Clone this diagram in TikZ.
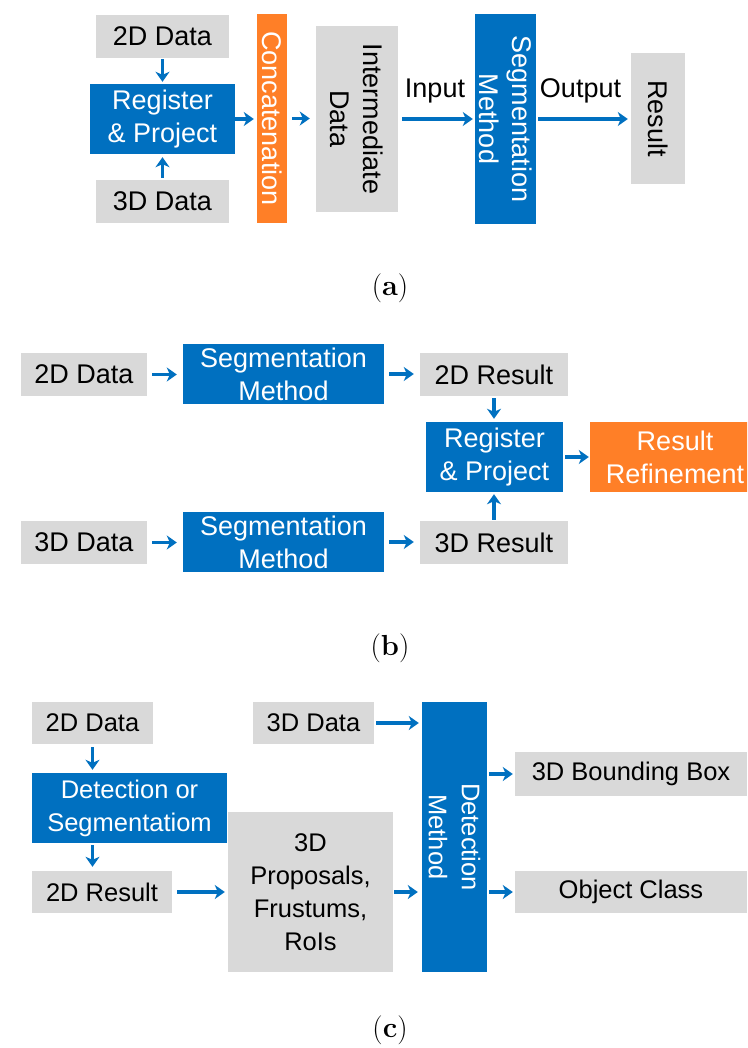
\documentclass[tikz,border=0pt]{standalone}
\usepackage{fontspec}
\setsansfont{Liberation Sans}
\usetikzlibrary{arrows.meta}

\definecolor{boxgray}{RGB}{217,217,217}
\definecolor{boxblue}{RGB}{0,112,192}
\definecolor{boxorange}{RGB}{255,127,39}

\tikzset{
  base/.style={inner sep=0pt, align=center, anchor=center,
    font=\sffamily\fontsize{27}{33}\selectfont},
  graybox/.style={base, fill=boxgray, text=black},
  bluebox/.style={base, fill=boxblue, text=white},
  orangebox/.style={base, fill=boxorange, text=white},
  sz/.style 2 args={minimum width=#1, minimum height=#2},
  lbl/.style={inner sep=0pt, anchor=base, text=black,
    font=\sffamily\fontsize{27}{33}\selectfont},
  caption/.style={inner sep=0pt, anchor=base,
    font=\rmfamily\fontsize{29}{32}\selectfont},
  flow/.style={draw=boxblue, line width=3.8pt,
    -{Stealth[length=10pt,width=14pt,inset=3pt,fill=boxblue]}},
  smaller/.style={font=\sffamily\fontsize{25.5}{33}\selectfont},
}

\begin{document}
\begin{tikzpicture}[x=1pt,y=1pt]
\useasboundingbox (0,0) rectangle (747,-1048);
\clip (0,0) rectangle (747,-1048);

% ---------- (a) early fusion ----------
\node[graybox, sz={133}{43}] (a2d) at (162.5,-36.5) {2D Data};
\node[bluebox, sz={145}{70}] (areg) at (162.5,-119) {Register\\\& Project};
\node[graybox, sz={133}{43}] (a3d) at (162.5,-201.5) {3D Data};
\node[orangebox, rotate=-90, sz={209}{30}] (acat) at (272,-118.5) {Concatenation};
\node[graybox, rotate=-90, sz={186}{82}] (aint) at (357,-119) {Intermediate\\Data};
\node[bluebox, rotate=-90, sz={210}{61}] (aseg) at (505.5,-119) {Segmentation\\Method};
\node[graybox, rotate=-90, sz={131}{54}] (ares) at (658,-118.5) {Result};
\node[lbl] (ain) at (435,-98) {Input};
\node[lbl] (aout) at (580.5,-98) {Output};

\draw[flow, shorten <=1, shorten >=2] (a2d.south) -- (a2d.south |- areg.north);
\draw[flow, shorten <=2, shorten >=3] (a3d.north) -- (a3d.north |- areg.south);
\draw[flow, shorten >=3] (areg.east) -- (areg.east -| acat.south);
\draw[flow, shorten <=5, shorten >=6] (acat.north) -- (acat.north -| aint.south);
\draw[flow, shorten <=4, shorten >=2] (aint.north) -- (aint.north -| aseg.south);
\draw[flow, shorten <=2, shorten >=3] (aseg.north) -- (aseg.north -| ares.south);

\node[caption] (capa) at (390,-295) {(\textbf{a})};

% ---------- (b) late fusion ----------
\node[graybox, sz={126}{43}] (b2d) at (84,-374.5) {2D Data};
\node[bluebox, sz={201}{60}] (bseg1) at (283.5,-374) {Segmentation\\Method};
\node[graybox, sz={148}{43}] (b2r) at (494,-374.5) {2D Result};
\node[bluebox, sz={137}{70}] (breg) at (494.5,-457) {Register\\\& Project};
\node[orangebox, sz={170}{70}] (bref) at (675,-457) {Result\\Refinement};
\node[graybox, sz={126}{43}] (b3d) at (84,-542.5) {3D Data};
\node[bluebox, sz={201}{60}] (bseg2) at (283.5,-542) {Segmentation\\Method};
\node[graybox, sz={148}{43}] (b3r) at (494,-542.5) {3D Result};

\draw[flow, shorten <=5, shorten >=6] (b2d.east) -- (b2d.east -| bseg1.west);
\draw[flow, shorten <=5, shorten >=6] (bseg1.east) -- (bseg1.east -| b2r.west);
\draw[flow, shorten <=5, shorten >=6] (b3d.east) -- (b3d.east -| bseg2.west);
\draw[flow, shorten <=5, shorten >=6] (bseg2.east) -- (bseg2.east -| b3r.west);
\draw[flow, shorten <=2, shorten >=3] (b2r.south) -- (b2r.south |- breg.north);
\draw[flow, shorten <=1, shorten >=2] (b3r.north) -- (b3r.north |- breg.south);
\draw[flow, shorten <=2, shorten >=1] (breg.east) -- (breg.east -| bref.west);

\node[caption] (capb) at (390,-655) {(\textbf{b})};

% ---------- (c) detection cascade ----------
\node[graybox, smaller, sz={121}{42}] (c2d) at (92.5,-723) {2D Data};
\node[bluebox, smaller, sz={195}{70}] (cdet) at (129.5,-808) {Detection or\\Segmentatiom};
\node[graybox, smaller, sz={140}{42}] (c2r) at (102,-892) {2D Result};
\node[graybox, smaller, sz={165}{160}] (cprop) at (310.5,-892) {3D\\Proposals,\\Frustums,\\RoIs};
\node[graybox, smaller, sz={121}{42}] (c3d) at (313.5,-723) {3D Data};
\node[bluebox, smaller, rotate=-90, sz={270}{65}] (cdm) at (454.5,-837) {Detection\\Method};
\node[graybox, smaller, sz={232}{44}] (cbb) at (631,-774) {3D Bounding Box};
\node[graybox, smaller, sz={232}{42}] (coc) at (631,-892) {Object Class};

\draw[flow, shorten <=3, shorten >=3] (c2d.south) -- (c2d.south |- cdet.north);
\draw[flow, shorten <=2, shorten >=4] (c2d.south |- cdet.south) -- (c2d.south |- c2r.north);
\draw[flow, shorten <=5, shorten >=3] (c2r.east) -- (c2r.east -| cprop.west);
\draw[flow, shorten <=2, shorten >=3] (c3d.east) -- (c3d.east -| cdm.south);
\draw[flow, shorten <=1, shorten >=4] (cprop.east) -- (cprop.east -| cdm.south);
\draw[flow, shorten <=2, shorten >=2] (cdm.north |- cbb.west) -- (cbb.west);
\draw[flow, shorten <=2, shorten >=2] (cdm.north |- coc.west) -- (coc.west);

\node[caption] (capc) at (390,-1037) {(\textbf{c})};
\end{tikzpicture}
\end{document}
